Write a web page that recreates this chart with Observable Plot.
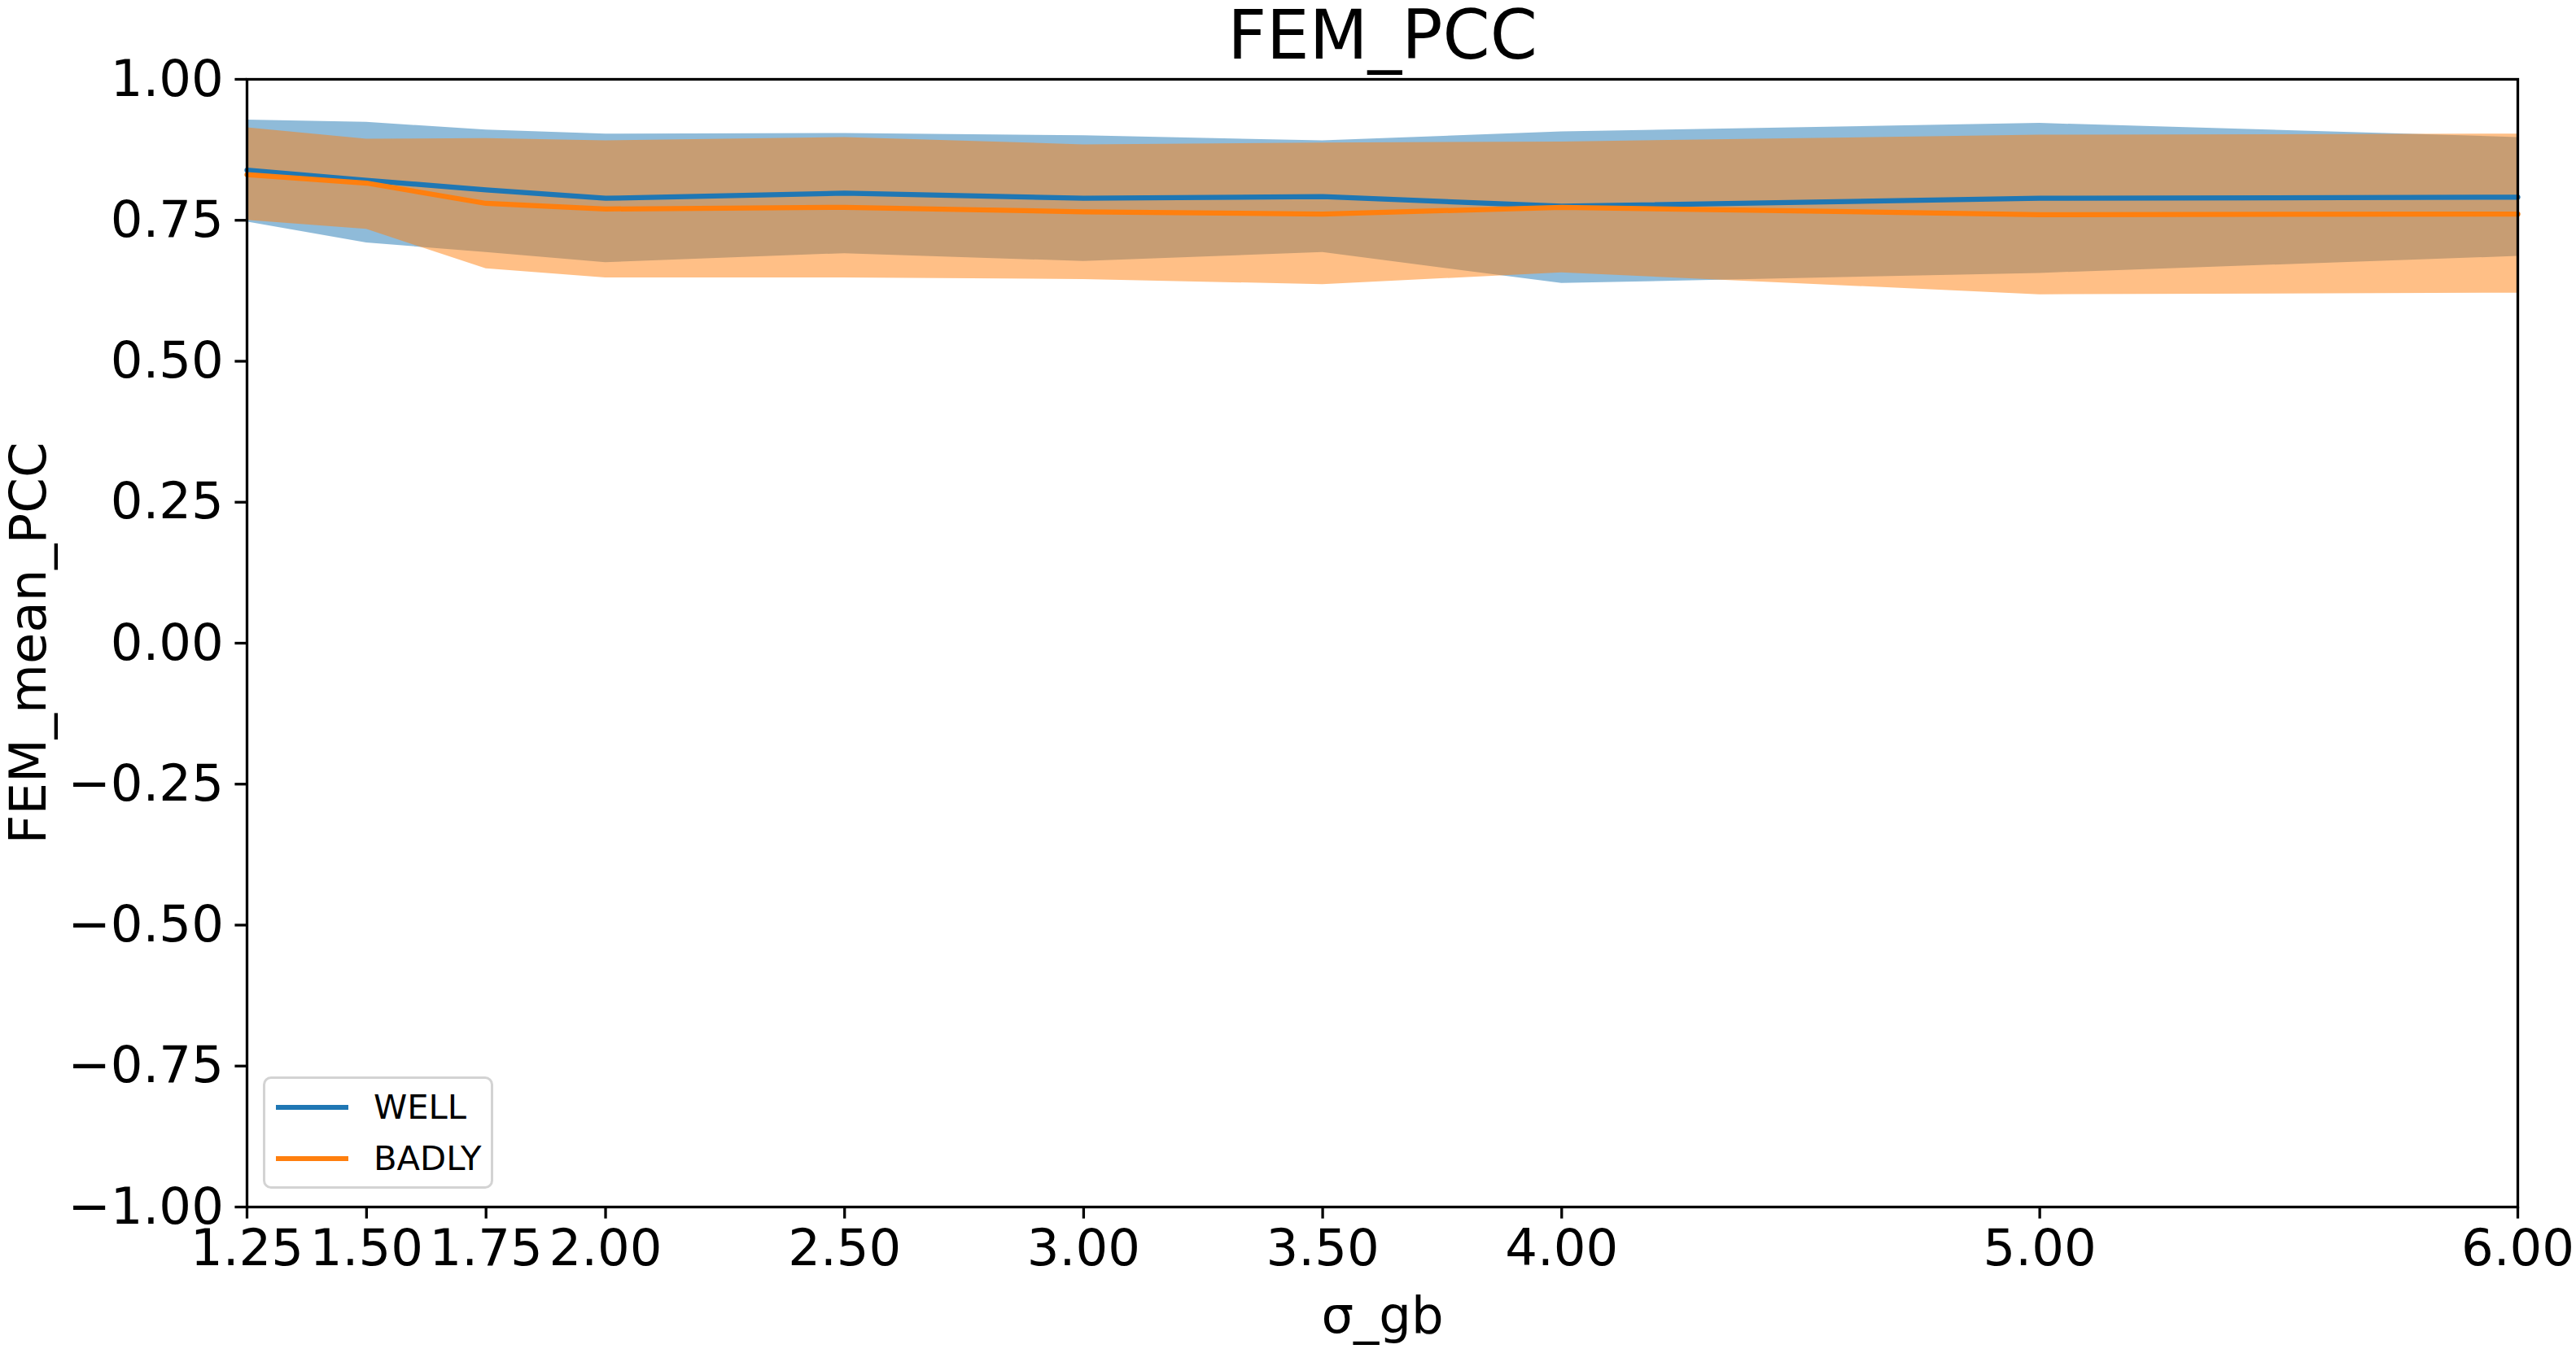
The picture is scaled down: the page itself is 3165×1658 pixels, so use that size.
<!DOCTYPE html>
<html>
<head>
<meta charset="utf-8">
<script src="https://cdn.jsdelivr.net/npm/d3@7"></script>
<script src="https://cdn.jsdelivr.net/npm/@observablehq/plot@0.6"></script>
<style>
  html, body { margin: 0; padding: 0; background: white; overflow: hidden; }
  #wrap { position: relative; width: 3165px; height: 1658px; font-family: "DejaVu Sans", sans-serif; }
  #legend { position: absolute; left: 323px; top: 1323px; width: 277px; height: 132px;
            border: 3px solid #d3d3d3; border-radius: 10px; background: rgba(255,255,255,0.8); }
  .sw { position: absolute; left: 13px; width: 89px; height: 6px; }
  .lb { position: absolute; left: 133px; font-size: 41.7px; line-height: 42px; color: black; }
</style>
</head>
<body>
<div id="wrap"></div>
<script>
// ---- data ----
const sigma = [1.25, 1.5, 1.75, 2.0, 2.5, 3.0, 3.5, 4.0, 5.0, 6.0];
const wellMean  = [0.839, 0.821, 0.804, 0.789, 0.798, 0.789, 0.792, 0.775, 0.789, 0.791];
const wellUpper = [0.928, 0.924, 0.910, 0.903, 0.904, 0.900, 0.891, 0.907, 0.922, 0.897];
const wellLower = [0.747, 0.710, 0.693, 0.675, 0.691, 0.677, 0.693, 0.638, 0.656, 0.686];
const badlyMean  = [0.831, 0.816, 0.780, 0.770, 0.773, 0.765, 0.761, 0.773, 0.760, 0.761];
const badlyUpper = [0.914, 0.894, 0.895, 0.891, 0.897, 0.884, 0.887, 0.889, 0.901, 0.903];
const badlyLower = [0.750, 0.734, 0.664, 0.648, 0.648, 0.645, 0.636, 0.657, 0.618, 0.621];
const seriesNames = ["WELL", "BADLY"];
const seriesColors = ["#1f77b4", "#ff7f0e"];
const xTickValues = [1.25, 1.5, 1.75, 2.0, 2.5, 3.0, 3.5, 4.0, 5.0, 6.0];
const yTickValues = [-1, -0.75, -0.5, -0.25, 0, 0.25, 0.5, 0.75, 1];
const titleText = "FEM_PCC";
const xLabelText = "σ_gb";
const yLabelText = "FEM_mean_PCC";

const well = sigma.map((s, i) => ({sigma: s, mean: wellMean[i], lower: wellLower[i], upper: wellUpper[i]}));
const badly = sigma.map((s, i) => ({sigma: s, mean: badlyMean[i], lower: badlyLower[i], upper: badlyUpper[i]}));
const fmt = d3.format(".2f");
const FS = 62.5;

const chart = Plot.plot({
  width: 3165,
  height: 1658,
  marginLeft: 303,
  marginRight: 72,
  marginTop: 97,
  marginBottom: 175,
  style: {fontFamily: "DejaVu Sans", fontSize: FS + "px", color: "black", background: "white"},
  x: {domain: [1.25, 6]},
  y: {domain: [-1, 1]},
  marks: [
    Plot.areaY(well, {x: "sigma", y1: "lower", y2: "upper", fill: seriesColors[0], fillOpacity: 0.5}),
    Plot.areaY(badly, {x: "sigma", y1: "lower", y2: "upper", fill: seriesColors[1], fillOpacity: 0.5}),
    Plot.lineY(well, {x: "sigma", y: "mean", stroke: seriesColors[0], strokeWidth: 6.25}),
    Plot.lineY(badly, {x: "sigma", y: "mean", stroke: seriesColors[1], strokeWidth: 6.25}),
    Plot.frame({stroke: "black", strokeWidth: 3.3}),
    Plot.axisX({ticks: xTickValues, tickFormat: fmt, tickSize: 14.6, tickPadding: 13, strokeWidth: 3.3, label: null, fontSize: FS}),
    Plot.axisY({ticks: yTickValues, tickFormat: fmt, tickSize: 14.6, tickPadding: 14, strokeWidth: 3.3, label: null, fontSize: FS}),
    Plot.text([titleText], {text: d => d, frameAnchor: "top", lineAnchor: "bottom", dy: -26, fontSize: 83.3}),
    Plot.text([xLabelText], {text: d => d, frameAnchor: "bottom", lineAnchor: "bottom", dy: 154, fontSize: FS}),
    Plot.text([yLabelText], {text: d => d, frameAnchor: "left", textAnchor: "middle", lineAnchor: "middle", rotate: -90, dx: -268, fontSize: FS})
  ]
});

const wrap = document.getElementById("wrap");
wrap.appendChild(chart);

// legend
const legend = document.createElement("div");
legend.id = "legend";
seriesNames.forEach((name, i) => {
  const sw = document.createElement("div");
  sw.className = "sw";
  sw.style.top = (32 + i * 63) + "px";
  sw.style.background = seriesColors[i];
  const lb = document.createElement("div");
  lb.className = "lb";
  lb.style.top = (14 + i * 63) + "px";
  lb.textContent = name;
  legend.appendChild(sw);
  legend.appendChild(lb);
});
wrap.appendChild(legend);
</script>
</body>
</html>
